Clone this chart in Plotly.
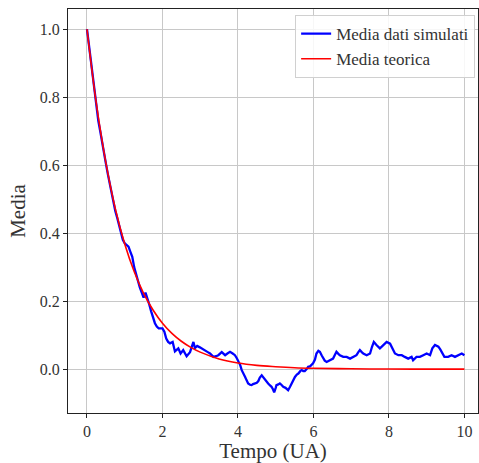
import plotly.graph_objects as go

# Simulated mean
t_sim = [0.0, 0.05, 0.1, 0.15, 0.2, 0.25, 0.3, 0.35, 0.4, 0.45, 0.5, 0.55, 0.6, 0.65, 0.7, 0.75, 0.8, 0.85, 0.9, 0.95,
         1.0, 1.05, 1.1, 1.15, 1.2, 1.25, 1.3, 1.35, 1.4, 1.45, 1.5, 1.55, 1.6, 1.65, 1.7, 1.75, 1.8, 1.85, 1.9, 1.95,
         2.0, 2.05, 2.1, 2.15, 2.2, 2.27, 2.33, 2.42, 2.48, 2.55, 2.64, 2.73, 2.8, 2.82, 2.86, 2.92, 2.99, 3.06, 3.13,
         3.2, 3.26, 3.35, 3.42, 3.48, 3.57, 3.62, 3.66, 3.72, 3.79, 3.86, 3.92, 3.97, 4.01, 4.06, 4.10, 4.15, 4.19,
         4.23, 4.27, 4.32, 4.36, 4.40, 4.45, 4.5, 4.54, 4.58, 4.63, 4.68, 4.72, 4.76, 4.80, 4.85, 4.89, 4.93, 4.96,
         5.0, 5.02, 5.07, 5.11, 5.15, 5.2, 5.26, 5.33, 5.38, 5.42, 5.47, 5.51, 5.56, 5.6, 5.65, 5.69, 5.73, 5.77,
         5.82, 5.86, 5.91, 5.95, 5.99, 6.04, 6.08, 6.13, 6.17, 6.22, 6.26, 6.3, 6.35, 6.44, 6.52, 6.57, 6.61, 6.66,
         6.70, 6.79, 6.88, 6.97, 7.05, 7.14, 7.19, 7.23, 7.28, 7.32, 7.41, 7.5, 7.55, 7.60, 7.67, 7.72, 7.76, 7.81,
         7.85, 7.9, 7.94, 8.03, 8.07, 8.12, 8.16, 8.25, 8.34, 8.42, 8.51, 8.60, 8.64, 8.73, 8.82, 8.91, 9.0, 9.09,
         9.15, 9.22, 9.31, 9.36, 9.40, 9.47, 9.57, 9.66, 9.75, 9.84, 9.93, 10.0]
v_sim = [1.0, 0.955, 0.905, 0.86, 0.81, 0.77, 0.73, 0.70, 0.672, 0.64, 0.605, 0.575, 0.545, 0.515, 0.49, 0.465, 0.445,
         0.42, 0.40, 0.38, 0.37, 0.365, 0.36, 0.345, 0.33, 0.30, 0.275, 0.26, 0.24, 0.225, 0.21, 0.225, 0.21, 0.19,
         0.17, 0.15, 0.135, 0.125, 0.12, 0.12, 0.12, 0.11, 0.09, 0.08, 0.076, 0.08, 0.052, 0.061, 0.046, 0.056, 0.038,
         0.05, 0.07, 0.08, 0.062, 0.068, 0.064, 0.06, 0.056, 0.05, 0.046, 0.036, 0.038, 0.041, 0.05, 0.046, 0.041,
         0.046, 0.051, 0.046, 0.041, 0.032, 0.024, 0.012, -0.003, -0.012, -0.023, -0.033, -0.042, -0.046, -0.047,
         -0.044, -0.042, -0.04, -0.035, -0.025, -0.018, -0.026, -0.032, -0.038, -0.042, -0.048, -0.052, -0.06, -0.068,
         -0.055, -0.047, -0.045, -0.042, -0.046, -0.052, -0.055, -0.062, -0.052, -0.042, -0.032, -0.023, -0.016,
         -0.013, -0.006, -0.003, -0.006, -0.006, 0.0, 0.007, 0.008, 0.012, 0.017, 0.028, 0.046, 0.054, 0.051, 0.04,
         0.031, 0.025, 0.021, 0.026, 0.031, 0.042, 0.051, 0.045, 0.041, 0.036, 0.036, 0.031, 0.036, 0.041, 0.05,
         0.056, 0.05, 0.046, 0.041, 0.046, 0.065, 0.08, 0.071, 0.065, 0.061, 0.066, 0.071, 0.078, 0.08, 0.075, 0.066,
         0.055, 0.046, 0.041, 0.041, 0.036, 0.031, 0.036, 0.026, 0.036, 0.036, 0.041, 0.046, 0.041, 0.061, 0.071,
         0.066, 0.058, 0.051, 0.036, 0.036, 0.041, 0.036, 0.041, 0.046, 0.041]

# Theoretical mean
t_teo = [0.0, 0.25, 0.5, 0.75, 1.0, 1.25, 1.5, 1.75, 2.0, 2.25, 2.5, 2.75, 3.0, 3.5, 4.0, 4.5, 5.0, 5.5, 6.0,
         7.0, 8.0, 9.0, 10.0]
v_teo = [1.0, 0.779, 0.607, 0.472, 0.368, 0.287, 0.223, 0.174, 0.135, 0.105, 0.082, 0.064, 0.050, 0.030, 0.018,
         0.011, 0.007, 0.004, 0.0025, 0.001, 0.0003, 0.0001, 0.0]

x_ticks = [0, 2, 4, 6, 8, 10]
y_ticks = [0.0, 0.2, 0.4, 0.6, 0.8, 1.0]

FONT = "Liberation Serif, DejaVu Serif, serif"
TXT = "#333333"

fig = go.Figure()
fig.add_trace(go.Scatter(x=t_sim, y=v_sim, mode="lines", name="Media dati simulati",
                         line=dict(color="#0000ff", width=2.3)))
fig.add_trace(go.Scatter(x=t_teo, y=v_teo, mode="lines", name="Media teorica",
                         line=dict(color="#ff0000", width=1.6, shape="spline", smoothing=1.0)))

axis_common = dict(showline=True, linecolor="#222222", linewidth=1, mirror=True,
                   showgrid=True, gridcolor="#c8c8c8", gridwidth=1, zeroline=False,
                   ticks="outside", ticklen=4, tickcolor="#222222")

fig.update_layout(
    width=479, height=463,
    margin=dict(l=68, r=1, t=9, b=50),
    paper_bgcolor="white", plot_bgcolor="white",
    font=dict(family=FONT, color=TXT, size=16),
    showlegend=True,
    legend=dict(x=0.993, y=0.985, xanchor="right", yanchor="top",
                bgcolor="rgba(255,255,255,0.85)", bordercolor="#d0d0d0", borderwidth=1,
                font=dict(family=FONT, size=17, color=TXT),
                itemwidth=30, tracegroupgap=0),
)
fig.update_xaxes(range=[-0.503, 10.36], tickvals=x_ticks, ticktext=[str(v) for v in x_ticks],
                 tickfont=dict(family=FONT, size=16, color=TXT),
                 title=dict(text="Tempo (UA)", font=dict(family=FONT, size=21, color=TXT), standoff=2),
                 **axis_common)
fig.update_yaxes(range=[-0.129, 1.059], tickvals=y_ticks, ticktext=[f"{v:.1f}" for v in y_ticks],
                 tickfont=dict(family=FONT, size=16, color=TXT),
                 title=dict(text="Media", font=dict(family=FONT, size=21, color=TXT), standoff=8),
                 **axis_common)

fig.write_html("out.html")
